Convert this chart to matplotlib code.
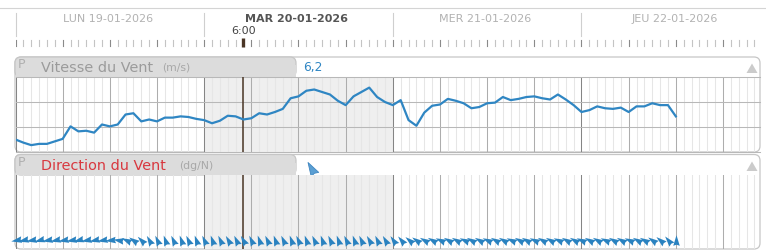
import numpy as np
import matplotlib.pyplot as plt
from matplotlib.patches import FancyBboxPatch, Rectangle, Polygon
from matplotlib.path import Path
from matplotlib.markers import MarkerStyle
from matplotlib.transforms import Affine2D


### data: hourly values starting LUN 19-01-2026 00:00 ###
days = ["LUN 19-01-2026", "MAR 20-01-2026", "MER 21-01-2026", "JEU 22-01-2026"]
today = 1                 # index of the highlighted day
now_hour = 29             # current time (hours since start)
now_label = "6:00"
now_value = "6,2"

speed = [3.0, 2.5, 2.1, 2.3, 2.3, 2.7, 3.1, 5.1, 4.3, 4.4,
         4.1, 5.4, 5.1, 5.4, 7.0, 7.2, 5.9, 6.2, 5.9, 6.5,
         6.5, 6.7, 6.6, 6.3, 6.1, 5.6, 6.0, 6.8, 6.7, 6.2,
         6.4, 7.2, 7.0, 7.4, 7.9, 9.6, 9.9, 10.8, 11.0, 10.6,
         10.2, 9.2, 8.5, 9.9, 10.6, 11.3, 9.8, 9.0, 8.5, 9.3,
         6.1, 5.2, 7.3, 8.4, 8.6, 9.5, 9.2, 8.8, 8.0, 8.2,
         8.8, 8.9, 9.8, 9.3, 9.5, 9.8, 9.9, 9.6, 9.4, 10.2,
         9.4, 8.5, 7.4, 7.7, 8.3, 8.0, 7.9, 8.1, 7.4, 8.3,
         8.3, 8.8, 8.5, 8.5, 6.7]

# wind direction (degrees from north, where the wind comes from)
direction = [80, 78, 80, 75, 80, 78, 80, 80, 75, 80,
             78, 80, 85, 100, 115, 125, 135, 150, 155, 160,
             155, 160, 155, 160, 155, 160, 155, 150, 155, 150,
             155, 160, 155, 160, 155, 160, 155, 160, 155, 160,
             155, 160, 155, 160, 155, 150, 155, 150, 145, 140,
             130, 125, 120, 120, 115, 120, 120, 115, 120, 120,
             115, 120, 120, 115, 120, 120, 115, 120, 120, 115,
             120, 120, 115, 120, 120, 115, 120, 120, 115, 120,
             120, 125, 130, 140, 180]
#########################################################

hours = np.arange(len(speed))

### geometry (pixels) ###
W, H = 766, 252
X0, X1 = 15.5, 760
PX_H = 7.861                      # pixels per hour
hmax = (X1 - X0) / PX_H

blue = "#2f86c3"
grid_h = "#e6e6e6"
grid_6 = "#adadad"
grid_d = "#858585"
brown = "#4a3626"

plt.rcParams['font.family'] = ['DejaVu Sans']

fig = plt.figure(figsize=(W / 100, H / 100), dpi=100)


def ax_px(x0, y0, x1, y1, **kw):
    return fig.add_axes([x0 / W, 1 - y1 / H, (x1 - x0) / W, (y1 - y0) / H], **kw)


### background: frames, tabs and titles ###
bg = ax_px(0, 0, W, H)
bg.set_xlim(0, W)
bg.set_ylim(H, 0)
bg.axis('off')

bg.plot([0, W], [8, 8], color="#d4d4d4", lw=0.8)


def panel(y0, y1, tab_y1, title, title_color):
    bg.add_patch(FancyBboxPatch((15, y0), 745, y1 - y0, boxstyle="round,pad=0,rounding_size=6",
                                fc="white", ec="#c6c6c6", lw=0.9))
    bg.add_patch(FancyBboxPatch((15, y0), 281, tab_y1 - y0, boxstyle="round,pad=0,rounding_size=6",
                                fc="#dcdcdc", ec="#c6c6c6", lw=0.9))
    bg.add_patch(Rectangle((15.5, y0 + 8), 280, tab_y1 - y0 - 8, fc="#dcdcdc", ec="none"))
    ty = (y0 + tab_y1) / 2 + 1
    bg.text(17.5, y0 + 7.5, "P", color="#b0b0b0", fontsize=9, va="center", ha="left")
    bg.text(41, ty, title, color=title_color, fontsize=10.4, va="center", ha="left")
    return ty


ty1 = panel(57, 152, 77, "Vitesse du Vent", "#9b9b9b")
bg.text(162, ty1, "(m/s)", color="#a8a8a8", fontsize=7.8, va="center", ha="left")
bg.text(303, ty1, now_value, color=blue, fontsize=8.8, va="center", ha="left")
bg.add_patch(Polygon([[746.5, 73], [757.5, 73], [752, 63.5]], closed=True, fc="#cbcbcb", ec="none"))

ty2 = panel(154.5, 249, 175, "Direction du Vent", "#d8383f")
bg.text(179, ty2, "(dg/N)", color="#a8a8a8", fontsize=7.8, va="center", ha="left")
bg.add_patch(Polygon([[746.5, 171], [757.5, 171], [752, 161.5]], closed=True, fc="#cbcbcb", ec="none"))

### time header ###
hd = ax_px(X0, 9, X1, 50)
hd.set_xlim(0, hmax)
hd.set_ylim(50, 9)
hd.axis('off')
for k, d in enumerate(days):
    hd.plot([24 * k, 24 * k], [13, 36], color="#cfcfcf", lw=0.8, clip_on=False)
    bold = k == today
    hd.text(24 * k + 11.8, 19, d, ha="center", va="center", fontsize=8,
            color="#555555" if bold else "#b2b2b2", fontweight="bold" if bold else "normal")
for h in range(0, int(hmax) + 1):
    c = "#8a8a8a" if h % 6 == 0 else "#c4c4c4"
    hd.plot([h, h], [40, 45.5], color=c, lw=0.8)
hd.plot([now_hour, now_hour], [38, 47], color=brown, lw=2.4, solid_capstyle="butt")
hd.text(now_hour, 31.5, now_label, ha="center", va="center", fontsize=8, color="#444444")


def time_grid(ax):
    ax.set_xlim(0, hmax)
    ax.axvspan(24 * today, 24 * (today + 1), color="#efefef", lw=0, zorder=0)
    for h in range(0, int(hmax) + 1):
        if h % 24 == 0:
            c = grid_d
        elif h % 6 == 0:
            c = grid_6
        else:
            c = grid_h
        ax.axvline(h, color=c, lw=0.75, zorder=1)
    ax.axvline(now_hour, color=brown, lw=1.1, zorder=2)
    ax.set_xticks([])
    ax.set_yticks([])
    for s in ax.spines.values():
        s.set_visible(False)
    ax.patch.set_alpha(0)


### wind speed panel ###
ax1 = ax_px(X0, 77, X1, 152)
time_grid(ax1)
ax1.set_ylim(1, 13)
for yv in (1, 5, 9, 13):
    ax1.axhline(yv, color="#b8b8b8", lw=0.75, zorder=1, clip_on=False)
ax1.plot(hours, speed, color=blue, lw=1.6, zorder=3, solid_joinstyle="round")

### wind direction panel ###
ax2 = ax_px(X0, 175, X1, 249)
time_grid(ax2)
ax2.set_ylim(0, 74)
arrow = Path([(1, 0), (-1, 0.62), (-0.8, 0), (-1, -0.62), (1, 0)],
             [Path.MOVETO, Path.LINETO, Path.LINETO, Path.LINETO, Path.CLOSEPOLY])
for h, d in zip(hours, direction):
    ang = 270 - d           # arrow points downwind
    m = MarkerStyle(arrow, transform=Affine2D().rotate_deg(ang))
    ax2.plot(h, 9, marker=m, ms=7.6, color="#2a82c0", mec="none", zorder=3, clip_on=False)

# current direction next to the tab
m = MarkerStyle(arrow, transform=Affine2D().rotate_deg(270 - direction[now_hour]))
bg.plot(311, 168, marker=m, ms=10, color="#5b9fd3", mec="#3f86c0", mew=0.6)

fig.savefig("out.png", dpi=100)
